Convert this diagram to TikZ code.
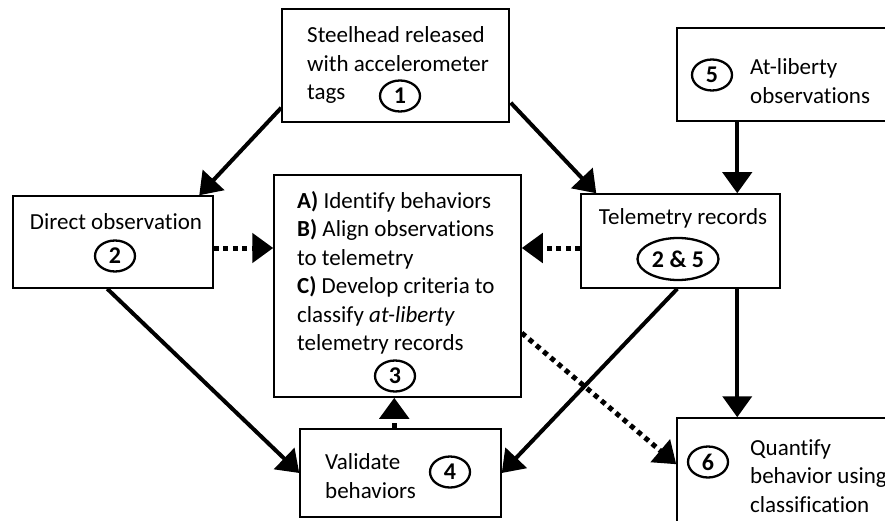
\documentclass[tikz,border=0pt]{standalone}
\usepackage{fontspec}
\setmainfont[Ligatures=NoCommon]{Carlito}
\usetikzlibrary{arrows.meta,calc,shapes.geometric}
\begin{document}
\begin{tikzpicture}[x=1pt,y=-1pt,
  box/.style={draw, line width=1.5pt, inner sep=0, fill=white},
  txt/.style={font=\fontsize{23}{28.5}\selectfont, align=left, inner sep=0, anchor=west},
  ctxt/.style={font=\fontsize{23}{28.5}\selectfont, inner sep=0},
  num/.style={draw, ellipse, line width=2.3pt, minimum width=40pt, minimum height=31pt, inner sep=0, font=\fontsize{24}{26}\selectfont\bfseries},
  arr/.style={line width=4pt, -{Triangle[length=21pt,width=29pt]}},
  dotarr/.style={line width=5pt, dash pattern=on 5pt off 4.5pt, -{Triangle[length=21pt,width=29pt]}},
]
\useasboundingbox (0,0) rectangle (885,521);
\clip (0,0) rectangle (885,521);

% boxes
\node[box, minimum width=227pt, minimum height=113pt] (b1) at (395.5,65.5) {};
\node[box, minimum width=228pt, minimum height=93pt] (b5) at (791,74.5) {};
\node[box, minimum width=200pt, minimum height=92pt] (b2) at (113,242) {};
\node[box, minimum width=247pt, minimum height=222pt] (b3) at (397.5,286) {};
\node[box, minimum width=199pt, minimum height=94pt] (tel) at (680.5,241) {};
\node[box, minimum width=201pt, minimum height=88pt] (b4) at (400.5,473) {};
\node[box, minimum width=228pt, minimum height=122pt] (b6) at (791,479) {};

% texts
\node[txt] (t1) at (307,65) {Steelhead released\\with accelerometer\\tags};
\node[num] (n1) at (400,96) {1};

\node[num] (n5) at (712,75) {5};
\node[txt] (t5) at (750,81) {At-liberty\\observations};

\node[ctxt] (t2) at (116,222) {Direct observation};
\node[num] (n2) at (115,256) {2};

\node[txt] (t3) at (297,273) {\textbf{A)} Identify behaviors\\\textbf{B)} Align observations\\to telemetry\\\textbf{C)} Develop criteria to\\classify \textit{at-liberty}\\telemetry records};
\node[num] (n3) at (395,376) {3};

\node[ctxt] (ttel) at (683,218) {Telemetry records};
\node[num, minimum width=81pt, minimum height=42pt] (n25) at (678,259) {2 \& 5};

\node[txt] (t4) at (325,476) {Validate\\behaviors};
\node[num] (n4) at (450,472) {4};

\node[num] (n6) at (708,462) {6};
\node[txt] (t6) at (750,476) {Quantify\\behavior using\\classification};

% connectors
\draw[arr] ($(b1.south west)+(0,-15)$) -- ($(b2.north west)+(187,0)$);
\draw[arr] ($(b1.south east)+(1,-20)$) -- ($(tel.north west)+(16,0)$);
\draw[arr] ($(b5.south west)+(61,0)$) -- ($(tel.north west)+(157,0)$);
\draw[dotarr] ($(b2.east)+(0,6)$) -- ($(b3.west)+(0,-38)$);
\draw[dotarr] ($(tel.west)+(0,7)$) -- ($(b3.east)+(0,-38)$);
\draw[arr] ($(b2.south west)+(95,0)$) -- (b4.west);
\draw[arr] ($(tel.south west)+(97,0)$) -- (b4.east);
\draw[dotarr] ($(b4.north west)+(95,0)$) -- ($(b3.south west)+(121,0)$);
\draw[dotarr] ($(b3.east)+(0,47)$) -- ($(b6.north west)+(0,47)$);
\draw[arr] ($(tel.south west)+(157,0)$) -- ($(b6.north west)+(61,0)$);
\end{tikzpicture}
\end{document}
